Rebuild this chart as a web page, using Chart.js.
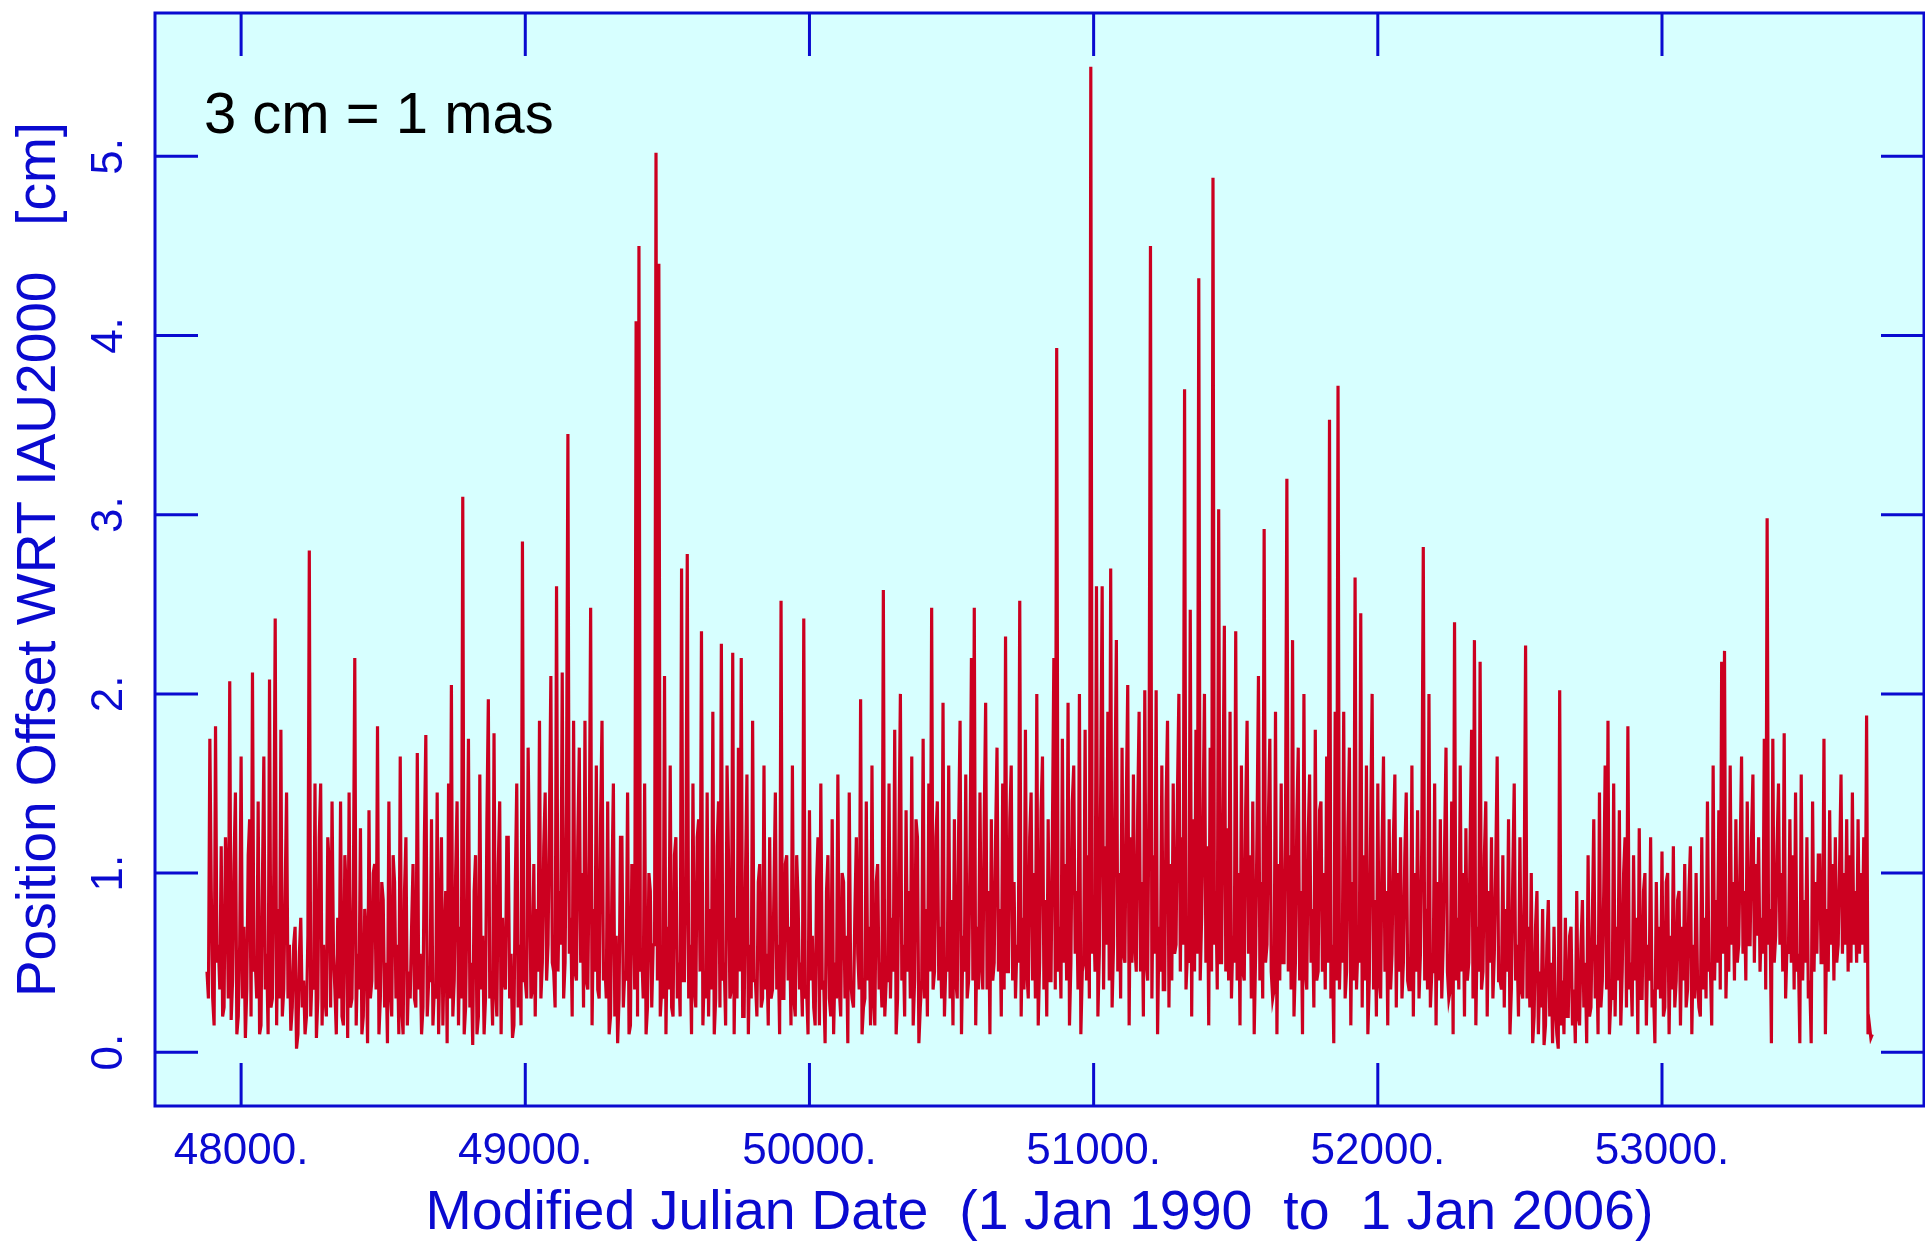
<!DOCTYPE html>
<html>
<head>
<meta charset="utf-8">
<script src="https://cdn.jsdelivr.net/npm/chart.js@4/dist/chart.umd.min.js"></script>
<style>
  html, body { margin: 0; padding: 0; background: #ffffff; }
  #wrap { width: 1925px; height: 1243px; }
</style>
</head>
<body>
<div id="wrap"><canvas id="offsetChart" width="1925" height="1243"></canvas></div>
<script>
// sessions every 5 days from MJD 47880: day 0 and day 5 of each 10-day slot
const mjdStart = 47880;
const slotDays = 10;

// position offset [cm] at day 0 of each slot, one row = 200 days
const offsetDay0 = [
    0.45, 1.75, 0.3, 1.82, 0.6, 1.15, 0.25, 0.9, 2.07, 0.4, 1.45, 0.2, 1.65, 0.7, 0.35, 1.3, 2.12, 0.5, 1.4, 0.15,
    1.65, 0.55, 2.08, 0.3, 2.42, 0.8, 1.8, 0.35, 1.45, 0.6, 0.25, 0.7, 0.1, 0.75, 0.4, 0.2, 2.8, 0.45, 1.5, 0.3,
    1.5, 0.6, 0.2, 1.05, 1.4, 0.35, 0.75, 1.4, 0.15, 0.9, 1.45, 0.3, 2.2, 0.55, 1.25, 0.2, 0.65, 1.35, 0.4, 1.05,
    1.82, 0.3, 0.85, 0.5, 1.4, 0.2, 0.95, 0.6, 1.65, 0.1, 1.2, 0.45, 0.7, 0.3, 1.67, 0.55, 0.25, 1.77, 0.4, 1.3,
    0.35, 1.45, 0.6, 0.15, 0.9, 1.5, 2.05, 0.4, 1.4, 0.7, 3.1, 0.25, 1.75, 0.5, 0.9, 0.1, 1.55, 0.65, 0.3, 1.97,
    0.45, 1.78, 0.2, 1.4, 0.75, 0.35, 1.2, 0.55, 0.15, 1.5, 0.6, 2.85, 0.4, 1.7, 0.3, 1.05, 0.8, 1.85, 0.5, 1.45,
    0.6, 2.1, 0.45, 2.6, 0.9, 2.12, 0.5, 3.45, 0.75, 1.85, 0.4, 1.7, 1.0, 1.85, 0.35, 2.48, 0.8, 1.6, 0.3, 1.85,
    0.5, 1.4, 0.2, 1.5, 0.65, 0.3, 1.2, 0.45, 1.45, 0.15, 1.0, 4.08, 4.5, 0.55, 1.5, 0.25, 0.9, 0.6, 5.02, 4.4,
    0.35, 2.1, 0.7, 1.6, 0.2, 1.2, 0.5, 2.7, 0.4, 2.78, 0.6, 1.5, 0.25, 1.3, 2.35, 0.45, 1.45, 0.8, 1.9, 0.3,
    1.4, 2.28, 0.5, 1.6, 0.3, 2.23, 0.75, 1.7, 2.2, 0.2, 1.55, 0.6, 1.85, 0.4, 0.95, 0.25, 1.6, 0.55, 1.2, 0.35,
    1.45, 0.6, 2.52, 0.3, 1.1, 0.7, 1.6, 0.2, 0.85, 0.5, 2.42, 0.35, 1.35, 0.65, 0.15, 1.2, 1.5, 0.4, 0.9, 0.3,
    1.3, 0.5, 1.55, 0.2, 0.95, 0.65, 1.45, 0.3, 0.8, 0.55, 1.97, 0.25, 1.4, 0.7, 1.6, 0.15, 1.05, 0.5, 2.58, 0.4,
    1.5, 0.75, 1.8, 0.3, 2.0, 0.6, 1.35, 0.9, 1.65, 0.4, 1.2, 0.25, 1.75, 0.8, 1.5, 2.48, 0.45, 1.4, 0.7, 1.95,
    0.5, 1.6, 0.85, 1.3, 0.3, 1.85, 0.65, 1.55, 0.4, 2.2, 2.48, 0.7, 1.45, 0.35, 1.95, 0.9, 1.3, 0.5, 1.7, 0.8,
    1.5, 2.32, 0.45, 1.6, 0.95, 0.6, 2.52, 0.75, 1.8, 0.3, 1.45, 1.0, 2.0, 0.5, 1.65, 0.85, 1.3, 0.4, 2.2, 3.93,
    0.7, 1.75, 1.05, 1.95, 0.5, 1.6, 0.9, 2.0, 0.45, 1.8, 1.1, 5.5, 0.8, 2.6, 0.55, 2.6, 1.15, 1.9, 2.7, 0.6,
    2.3, 1.0, 1.7, 0.5, 2.05, 1.2, 1.55, 0.45, 1.9, 0.95, 2.02, 0.4, 4.5, 1.1, 2.02, 0.7, 1.6, 0.35, 1.85, 1.05,
    1.5, 0.6, 2.0, 1.2, 3.7, 0.55, 2.47, 1.3, 1.8, 4.32, 0.75, 2.0, 1.15, 1.7, 4.88, 0.9, 3.03, 0.5, 2.38, 1.25,
    1.9, 0.65, 2.35, 1.0, 1.6, 0.4, 1.85, 1.1, 1.4, 0.55, 2.1, 0.95, 2.92, 0.6, 1.75, 0.3, 1.9, 1.05, 1.5, 0.5,
    3.2, 1.1, 2.3, 0.5, 1.7, 0.9, 2.0, 0.35, 1.55, 0.8, 1.8, 0.45, 1.4, 1.0, 1.65, 3.53, 0.6, 1.9, 3.72, 0.7,
    1.9, 0.45, 1.7, 0.95, 2.65, 0.6, 2.45, 1.1, 1.6, 0.4, 2.0, 0.85, 1.5, 0.3, 1.65, 0.9, 1.3, 0.55, 1.55, 1.0,
    1.2, 0.5, 1.45, 0.35, 1.6, 1.0, 1.35, 0.55, 2.82, 0.8, 2.0, 0.45, 1.5, 0.95, 1.3, 0.6, 1.7, 0.3, 1.4, 2.4,
    0.75, 1.6, 1.0, 1.25, 0.5, 1.8, 2.3, 0.7, 2.18, 0.45, 1.4, 0.9, 1.2, 0.55, 1.65, 0.4, 1.1, 0.8, 1.3, 0.35,
    1.5, 0.6, 1.2, 0.3, 2.27, 0.7, 1.0, 0.2, 0.9, 0.45, 0.8, 0.15, 0.85, 0.5, 0.7, 0.1, 2.02, 0.4, 0.75, 0.2,
    0.7, 0.35, 0.9, 0.15, 0.85, 0.5, 1.1, 0.25, 1.3, 0.6, 1.45, 0.4, 1.6, 1.85, 0.3, 1.5, 0.7, 1.35, 0.45, 1.2,
    1.82, 0.5, 1.1, 0.75, 1.25, 0.3, 1.0, 0.6, 1.2, 0.35, 0.95, 0.7, 1.12, 0.25, 1.0, 0.65, 1.15, 0.4, 0.9, 0.7,
    1.05, 0.35, 1.15, 0.6, 1.0, 0.25, 1.2, 0.75, 1.4, 0.5, 1.6, 0.85, 1.35, 2.18, 2.24, 0.7, 1.6, 0.95, 1.3, 0.6,
    1.65, 0.9, 1.4, 0.6, 1.55, 1.05, 1.2, 0.75, 1.75, 2.98, 0.8, 1.75, 0.65, 1.5, 1.0, 1.78, 0.6, 1.3, 1.1, 1.45,
    0.55, 1.55, 0.85, 1.2, 0.4, 1.4, 0.95, 1.1, 0.5, 1.75, 0.8, 1.35, 1.05, 1.2, 0.6, 1.55, 1.0, 1.3, 1.1, 1.45,
    0.9, 1.3, 1.0, 1.2, 1.88, 0.15, 0.1
];

// position offset [cm] at day 5 of each slot
const offsetDay5 = [
    0.3, 0.9, 0.15, 0.5, 0.35, 0.2, 1.2, 0.3, 0.18, 1.05, 0.1, 0.6, 0.3, 0.08, 1.1, 0.2, 0.45, 0.3, 0.1, 0.95,
    0.35, 0.1, 0.25, 1.0, 0.15, 0.3, 0.2, 0.9, 0.3, 0.12, 0.6, 0.02, 0.55, 0.25, 0.1, 0.65, 0.2, 0.35, 0.08, 1.2,
    0.15, 0.3, 1.2, 0.25, 0.55, 0.1, 0.3, 0.2, 1.1, 0.08, 0.25, 0.9, 0.15, 0.35, 0.1, 0.8, 0.05, 0.3, 1.0, 0.35,
    0.1, 0.95, 0.25, 0.05, 0.35, 1.1, 0.3, 0.1, 0.25, 0.9, 0.15, 0.3, 1.05, 0.25, 0.35, 0.1, 1.2, 0.2, 0.4, 0.15,
    0.3, 0.1, 1.2, 0.6, 0.05, 0.3, 0.2, 1.0, 0.15, 0.3, 0.1, 0.85, 0.25, 0.04, 1.1, 0.2, 0.35, 0.1, 1.3, 0.3,
    0.15, 0.35, 1.05, 0.1, 0.4, 1.2, 0.3, 0.08, 0.95, 0.25, 0.15, 0.4, 0.3, 1.0, 0.35, 0.2, 0.45, 0.3, 1.15, 0.4,
    1.3, 0.5, 0.25, 0.45, 0.6, 0.3, 1.4, 0.55, 0.2, 0.45, 1.2, 0.5, 0.25, 0.4, 1.1, 0.15, 0.45, 0.35, 1.3, 0.4,
    0.3, 0.1, 0.95, 0.2, 0.05, 1.2, 0.25, 0.4, 0.1, 1.05, 0.35, 0.2, 0.45, 0.3, 0.1, 1.0, 0.25, 0.6, 0.4, 0.2,
    0.3, 0.1, 0.35, 0.25, 1.1, 0.3, 0.2, 0.4, 0.95, 0.3, 0.1, 0.35, 1.2, 0.45, 0.15, 0.3, 0.2, 0.35, 0.1, 1.15,
    0.25, 0.4, 0.15, 1.1, 0.35, 0.1, 0.3, 0.45, 0.2, 1.0, 0.1, 0.3, 0.4, 0.2, 1.05, 0.3, 0.35, 0.15, 0.3, 0.9,
    0.35, 0.1, 0.3, 1.05, 0.4, 0.15, 0.3, 1.1, 0.35, 0.2, 0.3, 0.1, 0.4, 0.25, 0.95, 0.15, 0.35, 0.05, 1.1, 0.2,
    0.1, 0.3, 0.35, 1.0, 0.3, 0.05, 0.4, 0.25, 1.2, 0.35, 0.1, 0.3, 0.4, 0.15, 0.3, 0.95, 0.35, 0.25, 0.2, 0.4,
    0.3, 0.45, 0.1, 1.2, 0.4, 0.2, 0.45, 0.3, 0.15, 1.3, 0.05, 0.4, 0.3, 0.2, 0.45, 0.35, 1.2, 0.4, 0.3, 0.2,
    0.45, 0.3, 0.15, 0.4, 1.25, 0.1, 0.45, 0.3, 1.1, 0.4, 0.15, 0.35, 0.5, 1.3, 0.35, 0.1, 0.4, 1.2, 0.45, 0.2,
    0.35, 0.45, 1.3, 0.4, 0.3, 0.5, 0.2, 0.35, 0.45, 1.2, 0.4, 0.3, 0.15, 1.35, 0.35, 0.2, 0.4, 1.25, 0.35, 0.45,
    0.3, 0.5, 0.4, 0.15, 1.4, 0.55, 0.35, 0.1, 0.5, 0.4, 0.3, 0.55, 0.45, 0.2, 1.5, 0.35, 0.6, 0.4, 0.25, 1.45,
    0.45, 0.3, 0.55, 1.4, 0.15, 0.5, 0.6, 1.35, 0.45, 0.2, 0.5, 1.5, 0.3, 0.55, 0.1, 0.45, 0.35, 1.4, 0.25, 0.4,
    0.55, 1.45, 0.45, 0.6, 0.35, 0.5, 0.2, 0.45, 0.55, 0.4, 1.3, 0.5, 0.15, 0.45, 0.6, 0.35, 0.5, 1.4, 0.45, 0.4,
    0.3, 0.5, 0.4, 0.15, 0.45, 1.35, 0.55, 0.3, 0.1, 1.25, 0.4, 0.3, 0.5, 1.3, 0.45, 0.35, 0.1, 0.4, 0.5, 1.2,
    0.45, 0.35, 0.2, 1.3, 0.4, 0.1, 0.45, 1.2, 0.5, 0.25, 0.4, 1.35, 0.45, 0.35, 0.5, 0.3, 0.05, 0.4, 0.35, 0.5,
    0.3, 1.25, 0.15, 0.4, 0.35, 0.5, 0.25, 0.4, 0.1, 1.3, 0.35, 0.2, 0.4, 1.15, 0.45, 0.15, 0.35, 1.2, 0.25, 0.45,
    0.3, 1.1, 0.4, 0.35, 0.2, 0.45, 0.3, 1.2, 0.4, 0.35, 0.25, 0.45, 0.15, 0.4, 0.3, 1.15, 0.45, 0.35, 0.1, 0.4,
    0.35, 0.45, 0.2, 0.4, 1.2, 0.3, 0.15, 0.45, 0.35, 1.1, 0.2, 0.5, 0.3, 1.05, 0.4, 0.35, 0.25, 0.45, 0.1, 1.0,
    0.4, 0.2, 0.35, 0.9, 0.3, 0.25, 0.05, 0.7, 0.1, 0.25, 0.04, 0.6, 0.2, 0.05, 0.25, 0.02, 0.15, 0.1, 0.2, 0.65,
    0.15, 0.05, 0.2, 0.6, 0.25, 0.05, 0.2, 0.75, 0.3, 0.1, 0.25, 0.9, 0.35, 0.1, 0.3, 0.2, 0.4, 0.15, 1.0, 0.25,
    0.35, 0.2, 0.4, 0.1, 0.3, 0.9, 0.15, 0.4, 0.25, 0.05, 0.35, 0.3, 0.2, 0.95, 0.1, 0.35, 0.25, 0.85, 0.15, 0.4,
    0.25, 0.9, 0.1, 0.3, 0.4, 0.2, 0.35, 0.3, 0.45, 0.15, 0.4, 0.5, 0.35, 0.55, 0.3, 0.45, 0.6, 0.4, 0.5, 1.1,
    0.55, 0.4, 0.6, 1.2, 0.5, 0.65, 0.45, 0.55, 0.35, 0.6, 0.05, 0.5, 1.15, 0.6, 0.45, 0.3, 0.55, 0.5, 0.35, 0.45,
    0.05, 0.4, 0.5, 0.3, 0.05, 0.45, 0.55, 1.1, 0.5, 0.1, 0.45, 0.6, 0.4, 0.5, 1.05, 0.55, 0.6, 0.45, 0.5, 0.6,
    0.5, 0.55, 0.6, 0.5, 0.1, 0.08
];

const xTicks = [48000, 49000, 50000, 51000, 52000, 53000];
const yTicks = [0, 1, 2, 3, 4, 5];
const xTitle = 'Modified Julian Date  (1 Jan 1990  to  1 Jan 2006)';
const yTitle = 'Position Offset WRT IAU2000   [cm]';
const note = '3 cm = 1 mas';

const blue = '#0a0ad0';
const red = '#cc0020';
const cyan = '#d7ffff';
const fontName = '"Liberation Sans", Arial, Helvetica, sans-serif';

const points = [];
offsetDay0.forEach((v, i) => {
    const day = mjdStart + i * slotDays;
    points.push({ x: day, y: v });
    if (i < offsetDay5.length) points.push({ x: day + slotDays / 2, y: offsetDay5[i] });
});

// background, frame, inward ticks, rotated y labels and the note
const framePlugin = {
    id: 'framePlugin',
    beforeDraw(chart) {
        const { ctx, chartArea: a } = chart;
        ctx.save();
        ctx.fillStyle = cyan;
        ctx.fillRect(a.left, a.top, a.right - a.left, a.bottom - a.top);
        ctx.restore();
    },
    afterDraw(chart) {
        const { ctx, chartArea: a } = chart;
        const xs = chart.scales.x;
        const ys = chart.scales.y;
        const tickLen = 43;
        ctx.save();
        ctx.strokeStyle = blue;
        ctx.lineWidth = 3;
        ctx.beginPath();
        xTicks.forEach(v => {
            const px = xs.getPixelForValue(v);
            ctx.moveTo(px, a.bottom); ctx.lineTo(px, a.bottom - tickLen);
            ctx.moveTo(px, a.top); ctx.lineTo(px, a.top + tickLen);
        });
        yTicks.forEach(v => {
            const py = ys.getPixelForValue(v);
            ctx.moveTo(a.left, py); ctx.lineTo(a.left + tickLen, py);
            ctx.moveTo(a.right, py); ctx.lineTo(a.right - tickLen, py);
        });
        ctx.stroke();
        ctx.strokeRect(a.left, a.top, a.right - a.left, a.bottom - a.top);

        // y tick labels, rotated like the axis title
        ctx.fillStyle = blue;
        ctx.font = '44px ' + fontName;
        ctx.textAlign = 'center';
        ctx.textBaseline = 'alphabetic';
        yTicks.forEach(v => {
            const py = ys.getPixelForValue(v);
            ctx.save();
            ctx.translate(122, py);
            ctx.rotate(-Math.PI / 2);
            ctx.fillText(v + '.', 0, 0);
            ctx.restore();
        });

        ctx.fillStyle = '#000000';
        ctx.font = '58px ' + fontName;
        ctx.textAlign = 'left';
        ctx.fillText(note, 204, 133);
        ctx.restore();
    }
};

const ctx = document.getElementById('offsetChart').getContext('2d');
new Chart(ctx, {
    type: 'line',
    data: {
        datasets: [{
            label: 'offset',
            data: points,
            borderColor: red,
            borderWidth: 3.2,
            pointRadius: 0,
            tension: 0,
            fill: false
        }]
    },
    options: {
        responsive: false,
        animation: false,
        events: [],
        layout: { padding: { top: 13, right: 1, left: 0, bottom: 0 } },
        plugins: {
            legend: { display: false },
            tooltip: { enabled: false }
        },
        scales: {
            x: {
                type: 'linear',
                min: 47697,
                max: 53922,
                grid: { display: false, drawTicks: false },
                border: { display: false },
                afterBuildTicks: scale => { scale.ticks = xTicks.map(v => ({ value: v })); },
                afterFit: scale => { scale.height = 137; },
                ticks: {
                    color: blue,
                    font: { family: fontName, size: 44 },
                    padding: 19,
                    maxRotation: 0,
                    autoSkip: false,
                    callback: v => v + '.'
                },
                title: {
                    display: true,
                    text: xTitle,
                    color: blue,
                    font: { family: fontName, size: 55.5, lineHeight: 1 },
                    padding: { top: 0, bottom: 2 }
                }
            },
            y: {
                min: -0.3,
                max: 5.8,
                grid: { display: false, drawTicks: false },
                border: { display: false },
                afterBuildTicks: scale => { scale.ticks = yTicks.map(v => ({ value: v })); },
                afterFit: scale => { scale.width = 155; },
                ticks: { display: false },
                title: {
                    display: true,
                    text: yTitle,
                    color: blue,
                    font: { family: fontName, size: 55, lineHeight: 1 },
                    padding: { top: 12, bottom: 0 }
                }
            }
        }
    },
    plugins: [framePlugin]
});
</script>
</body>
</html>
